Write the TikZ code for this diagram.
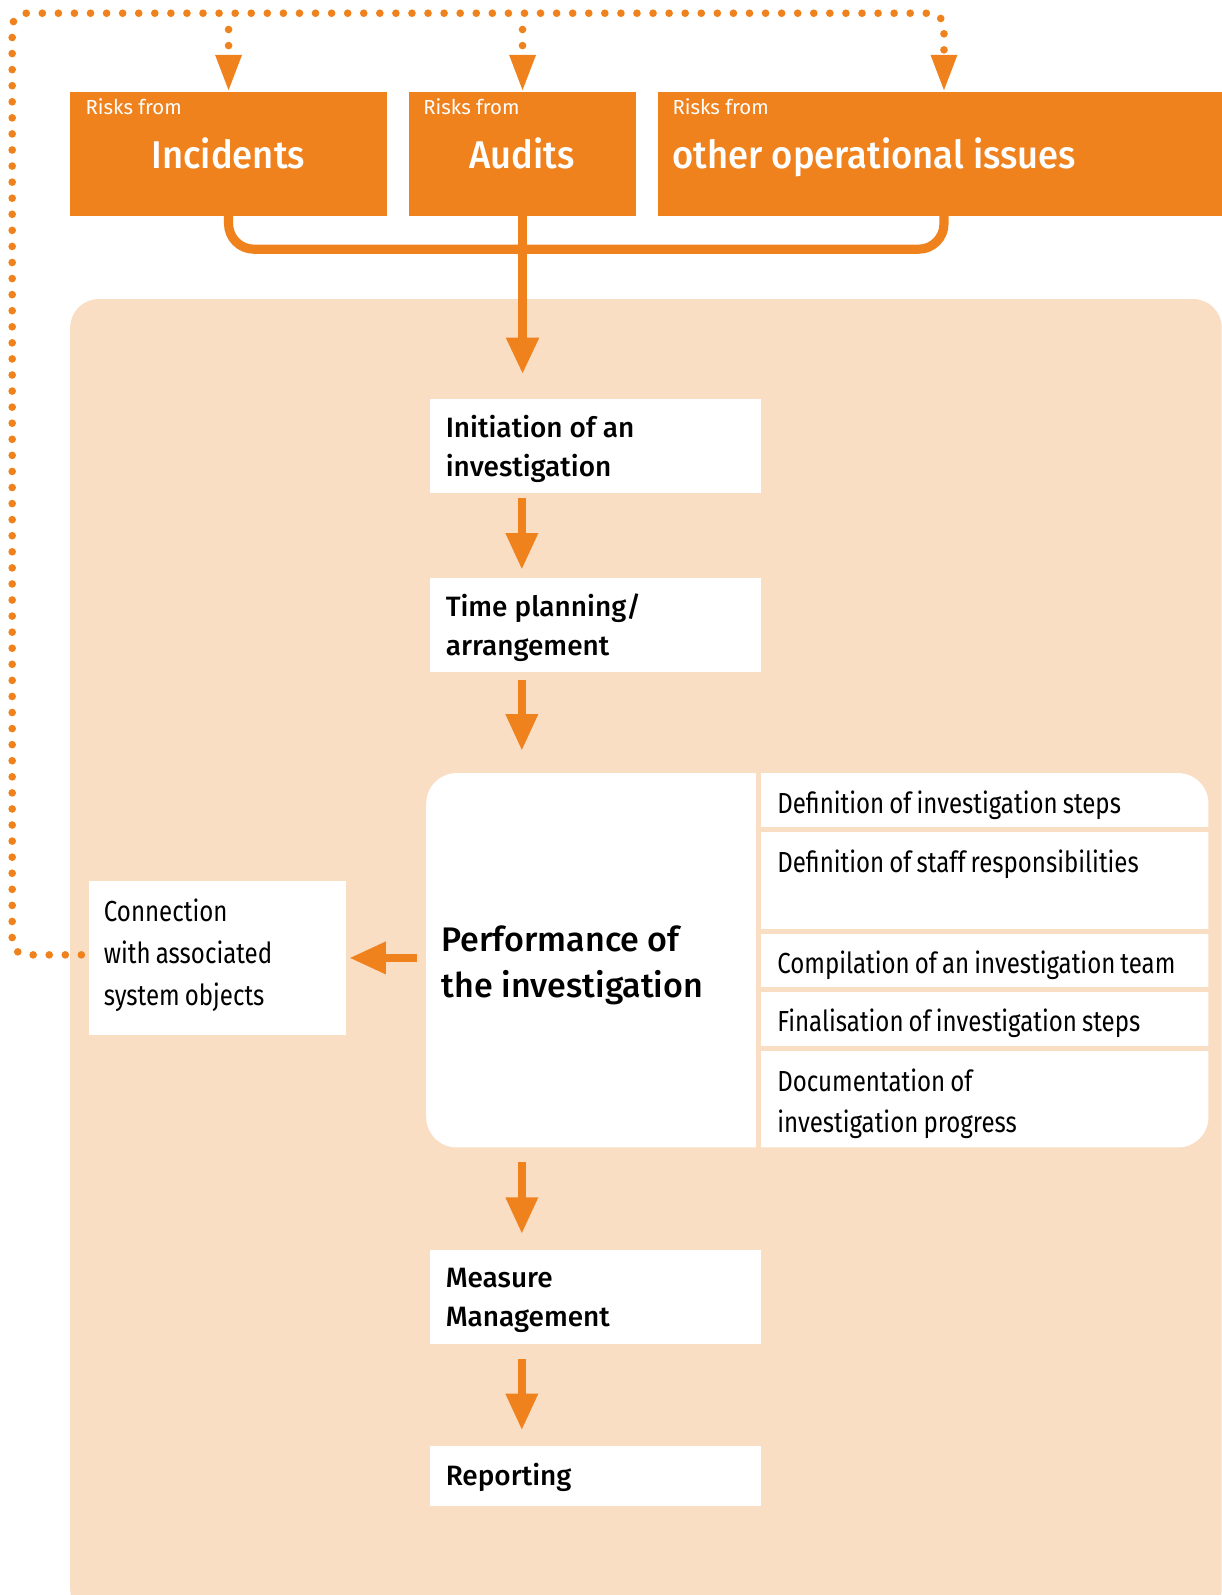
\documentclass[tikz,border=0pt]{standalone}
\usepackage{fontspec}
\setmainfont{Fira Sans}[BoldFont={Fira Sans Medium}]
\newfontfamily\condfont{Fira Sans}[FakeStretch=0.83,WordSpace=0.8]
\newfontfamily\riskfont{Fira Sans Medium}[FakeStretch=0.94]
\usetikzlibrary{arrows.meta,calc}
\definecolor{rorange}{RGB}{240,130,30}
\definecolor{rpeach}{RGB}{249,222,196}
\begin{document}
\begin{tikzpicture}[x=1pt,y=-1pt,
  riskbox/.style={fill=rorange, anchor=north west, inner sep=0pt, minimum height=122pt},
  risksmall/.style={anchor=base west, inner sep=0pt, text=white, font=\fontsize{20}{24}\selectfont},
  riskbig/.style={anchor=base, inner sep=0pt, text=white, font=\riskfont\fontsize{38}{44}\selectfont},
  stepbox/.style={fill=white, anchor=north west, inner xsep=15pt, inner ysep=0pt,
    text width=295pt, minimum height=92pt, align=left,
    font=\fontsize{27.5}{38}\selectfont\bfseries},
  steptext/.style={anchor=base west, inner sep=0pt, align=left,
    font=\fontsize{27.5}{38}\selectfont\bfseries},
  rowtext/.style={anchor=base west, inner sep=0pt, align=left,
    font=\condfont\fontsize{28.5}{40}\selectfont},
  flowarrow/.style={draw=rorange, line width=8pt, -{Triangle[width=30pt,length=36pt]}},
  busline/.style={draw=rorange, line width=9pt, rounded corners=25pt},
  dotline/.style={draw=rorange, line width=7.5pt, line cap=round, dash pattern=on 0pt off 15.8pt},
  dotarrow/.style={dotline, -{Triangle[width=24pt,length=36pt]}},
  sepline/.style={draw=rpeach, line width=5pt}
]
\useasboundingbox (0,0) rectangle (1201,1568);
\fill[white] (0,0) rectangle (1201,1568);

% panel behind the investigation workflow
\fill[rpeach, rounded corners=28pt] (69,294) rectangle (1201,1590);

% risk sources
\node[riskbox, minimum width=311pt] (inc) at (69,90) {};
\node[riskbox, minimum width=223pt] (aud) at (402,90) {};
\node[riskbox, minimum width=560pt] (oth) at (647,90) {};
\node[risksmall] (incpre) at (84,113) {Risks from};
\node[risksmall] (audpre) at (416,113) {Risks from};
\node[risksmall] (othpre) at (661,113) {Risks from};
\node[riskbig] (inctxt) at (224.5,166) {Incidents};
\node[riskbig] (audtxt) at (513.5,166) {Audits};
\node[riskbig, anchor=base west] (othtxt) at (661,166) {other operational issues};

% workflow steps
\node[stepbox] (init) at (423,392) {};
\node[stepbox] (time) at (423,568) {};
\node[stepbox] (meas) at (423,1229) {};
\node[stepbox, minimum height=59pt] (rep) at (423,1421) {};
\node[steptext] (inittxt) at (438,468) {Initiation of an\\investigation};
\node[steptext] (timetxt) at (438,644) {Time planning/\\arrangement};
\node[steptext] (meastxt) at (438,1304) {Measure\\Management};
\node[steptext] (reptxt) at (438,1460) {Reporting};

% performance block with its sub-steps
\fill[white, rounded corners=30pt] (419,760) rectangle (1188,1128);
\draw[sepline] (746,758) -- (746,1130);
\draw[sepline] (748,815.5) -- (1190,815.5);
\draw[sepline] (748,915.5) -- (1190,915.5);
\draw[sepline] (748,972.5) -- (1190,972.5);
\draw[sepline] (748,1030.5) -- (1190,1030.5);
\node[anchor=north west, minimum width=324pt, minimum height=368pt, inner sep=0pt] (perf) at (419,760) {};
\node[anchor=base west, inner sep=0pt, align=left, font=\fontsize{33.5}{46}\selectfont\bfseries]
  (perftxt) at (434,981) {Performance of\\the investigation};
\node[rowtext] (r1) at (764,800) {Definition of investigation steps};
\node[rowtext] (r2) at (764,858) {Definition of staff responsibilities};
\node[rowtext] (r3) at (764,957) {Compilation of an investigation team};
\node[rowtext] (r4) at (764,1014) {Finalisation of investigation steps};
\node[rowtext] (r5) at (764,1113) {Documentation of\\investigation progress};

% linked system objects
\node[fill=white, anchor=north west, minimum width=253pt, minimum height=151pt, inner sep=0pt]
  (conn) at (87,866) {};
\node[rowtext, font=\condfont\fontsize{28.5}{41}\selectfont] (conntxt) at (102,988)
  {Connection\\with associated\\system objects};

% collecting line from the risk sources
\coordinate (bus) at (928,245);
\draw[busline] (inc.south) |- (bus) -- (bus |- oth.south);
\draw[flowarrow, line width=9pt, shorten >=24pt] (aud.south) -- (aud.south |- init.north);

% flow between the steps
\draw[flowarrow] ([xshift=90pt,yshift=-5pt]init.south west) -- ([xshift=90pt,yshift=8pt]time.north west);
\draw[flowarrow] ([xshift=90pt,yshift=-8pt]time.south west) -- ([xshift=94pt,yshift=22pt]perf.north west);
\draw[flowarrow] ([xshift=94pt,yshift=-14pt]perf.south west) -- ([xshift=90pt,yshift=16pt]meas.north west);
\draw[flowarrow] ([xshift=90pt,yshift=-15pt]meas.south west) -- ([xshift=90pt,yshift=15pt]rep.north west);
\draw[flowarrow, shorten <=9pt, shorten >=3pt] (perf.west |- conn.east) -- (conn.east);

% feedback to the risk sources
\coordinate (dtl) at (12,13);
\coordinate (dtr) at (928,13);
\draw[dotarrow, rounded corners=14pt, shorten <=7pt]
  ([yshift=3pt]conn.west) -- ([yshift=3pt]conn.west -| dtl) -- (dtl) -- (dtr) -- (dtr |- oth.north);
\draw[dotarrow] (inc.north |- dtl) ++(0,16) -- (inc.north);
\draw[dotarrow] (aud.north |- dtl) ++(0,16) -- (aud.north);
\end{tikzpicture}
\end{document}
